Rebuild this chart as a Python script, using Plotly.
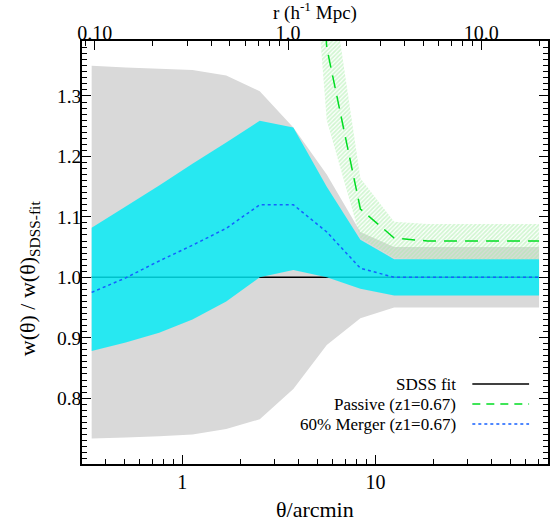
import math
import plotly.graph_objects as go

# Angular separation grid (arcmin)
theta = [0.34, 0.51, 0.76, 1.13, 1.69, 2.52, 3.76, 5.6, 8.36, 12.5, 18.6, 27.8, 41.5, 70.3]

# SDSS fit reference (ratio of 1 everywhere)
sdss_fit = [1.0] * len(theta)

# SDSS fit uncertainty envelope (grey band)
sdss_hi = [1.350, 1.347, 1.345, 1.343, 1.334, 1.308, 1.248, 1.170, 1.075, 1.050, 1.050, 1.050, 1.050, 1.050]
sdss_lo = [0.733, 0.735, 0.737, 0.740, 0.749, 0.765, 0.815, 0.888, 0.932, 0.950, 0.950, 0.950, 0.950, 0.950]

# 60% merger model (z1=0.67) and its envelope
merger = [0.975, 0.999, 1.027, 1.053, 1.081, 1.120, 1.120, 1.075, 1.015, 1.000, 1.000, 1.000, 1.000, 1.000]
merger_hi = [1.082, 1.117, 1.152, 1.188, 1.223, 1.259, 1.248, 1.150, 1.062, 1.030, 1.030, 1.030, 1.030, 1.030]
merger_lo = [0.878, 0.892, 0.908, 0.930, 0.960, 1.000, 1.012, 1.000, 0.981, 0.970, 0.970, 0.970, 0.970, 0.970]

# Passive model (z1=0.67) and its envelope, from 3.76 arcmin outward
passive_theta = theta[6:]
passive = [2.20, 1.38, 1.113, 1.065, 1.060, 1.060, 1.060, 1.060]
passive_hi = [2.60, 1.54, 1.164, 1.092, 1.088, 1.088, 1.088, 1.088]
passive_lo = [1.96, 1.26, 1.065, 1.032, 1.030, 1.030, 1.030, 1.030]

# Tick labels
y_ticks = [0.8, 0.9, 1.0, 1.1, 1.2, 1.3]
theta_ticks = [1, 10]
r_ticks = [0.1, 1, 10]
r_tick_text = ["0.10", "1.0", "10.0"]

# Conversion between angular and physical scale: arcmin per h^-1 Mpc
ARCMIN_PER_MPC = 3.53

x_min, x_max = 0.303, 78.2
y_min, y_max = 0.691, 1.391

FONT = "Liberation Serif, DejaVu Serif, Times New Roman, serif"

fig = go.Figure()


def band(xs, hi, lo):
    return list(xs) + list(xs)[::-1], list(hi) + list(lo)[::-1]


bx, by = band(theta, sdss_hi, sdss_lo)
fig.add_trace(go.Scatter(x=bx, y=by, fill="toself", mode="none",
                         fillcolor="#d9d9d9", hoverinfo="skip", showlegend=False))

fig.add_trace(go.Scatter(x=theta, y=sdss_fit, mode="lines",
                         line=dict(color="black", width=1.5), showlegend=False))

bx, by = band(theta, merger_hi, merger_lo)
fig.add_trace(go.Scatter(x=bx, y=by, fill="toself", mode="none",
                         fillcolor="rgba(0,236,246,0.82)",
                         hoverinfo="skip", showlegend=False))

fig.add_trace(go.Scatter(x=theta, y=merger, mode="lines",
                         line=dict(color="#1560ff", width=1.5, dash="dot"), showlegend=False))

bx, by = band(passive_theta, passive_hi, passive_lo)
fig.add_trace(go.Scatter(x=bx, y=by, fill="toself", mode="none",
                         fillcolor="rgba(0,0,0,0)",
                         fillpattern=dict(shape="/", fgcolor="#a6eea6", bgcolor="rgba(0,0,0,0)",
                                          size=3, solidity=0.6),
                         hoverinfo="skip", showlegend=False))

fig.add_trace(go.Scatter(x=passive_theta, y=passive, mode="lines",
                         line=dict(color="#00dd22", width=1.5, dash="13px,8px"), showlegend=False))

# Physical-scale axis companion trace (keeps the top axis active)
fig.add_trace(go.Scatter(x=[t / ARCMIN_PER_MPC for t in theta], y=sdss_fit, xaxis="x2",
                         mode="lines", line=dict(width=0), opacity=0,
                         hoverinfo="skip", showlegend=False))

minor_theta = [m * d for d in (0.1, 1, 10) for m in range(2, 10) if x_min < m * d < x_max]
minor_r = [m * d for d in (0.01, 0.1, 1, 10) for m in range(2, 10)
           if x_min / ARCMIN_PER_MPC < m * d < x_max / ARCMIN_PER_MPC]

axis_common = dict(showline=True, linecolor="black", linewidth=1.5, ticks="inside",
                   tickcolor="black", tickwidth=1.3, showgrid=False, zeroline=False)

fig.update_layout(
    width=552, height=527,
    margin=dict(l=82, r=2, t=41, b=63),
    paper_bgcolor="white", plot_bgcolor="white",
    font=dict(family=FONT, color="black"),
    xaxis=dict(type="log", range=[math.log10(x_min), math.log10(x_max)],
               tickvals=theta_ticks, ticktext=[str(t) for t in theta_ticks], ticklen=9,
               ticklabelstandoff=-1,
               tickfont=dict(family=FONT, size=20, color="black"),
               minor=dict(tickvals=minor_theta, ticks="inside", ticklen=5,
                          tickcolor="black", tickwidth=1.1),
               **axis_common),
    xaxis2=dict(type="log", overlaying="x", side="top", anchor="y",
                range=[math.log10(x_min / ARCMIN_PER_MPC), math.log10(x_max / ARCMIN_PER_MPC)],
                tickvals=r_ticks, ticktext=r_tick_text, ticklen=9,
                ticklabelstandoff=-9,
                tickfont=dict(family=FONT, size=20, color="black"),
                minor=dict(tickvals=minor_r, ticks="inside", ticklen=5,
                           tickcolor="black", tickwidth=1.1),
                **axis_common),
    yaxis=dict(range=[y_min, y_max], tickvals=y_ticks,
               ticktext=[f"{v:.1f}" for v in y_ticks], ticklen=9, mirror="ticks",
               ticklabelstandoff=-5,
               tickfont=dict(family=FONT, size=19.5, color="black"),
               minor=dict(dtick=0.01, tick0=0.8, ticks="inside", ticklen=5,
                          tickcolor="black", tickwidth=1.1),
               **axis_common),
)

# Axis titles
fig.add_annotation(text="θ/arcmin", xref="paper", yref="paper", x=0.5, y=-0.108,
                   xanchor="center", yanchor="middle", showarrow=False,
                   font=dict(family=FONT, size=22, color="black"))
fig.add_annotation(text="r (h<sup>-1</sup> Mpc)", xref="paper", yref="paper", x=0.5, y=1.0705,
                   xanchor="center", yanchor="middle", showarrow=False,
                   font=dict(family=FONT, size=19, color="black"))
fig.add_annotation(text="w(θ) / w(θ)<sub>SDSS-fit</sub>", xref="paper", yref="paper",
                   x=-0.113, y=0.44, textangle=-90, xanchor="center", yanchor="middle",
                   showarrow=False, font=dict(family=FONT, size=22, color="black"))

# Key: labels on the left, line samples on the right
key_rows = [("SDSS fit", "black", "solid", 384),
            ("Passive (z1=0.67)", "#00dd22", "dash", 404),
            ("60% Merger (z1=0.67)", "#1560ff", "dot", 424)]
plot_l, plot_w, plot_t, plot_h = 82, 468, 41, 423
for label, color, dash, ypx in key_rows:
    yp = 1 - (ypx - plot_t) / plot_h
    fig.add_annotation(text=label, xref="paper", yref="paper",
                       x=(460 - plot_l) / plot_w, y=yp, xanchor="right", yanchor="middle",
                       showarrow=False, font=dict(family=FONT, size=17, color="black"))
    fig.add_shape(type="line", xref="paper", yref="paper",
                  x0=(474 - plot_l) / plot_w, x1=(531 - plot_l) / plot_w, y0=yp, y1=yp,
                  line=dict(color=color, width=1.5, dash="8px,6px" if dash == "dash" else dash))

fig.write_html("out.html")
